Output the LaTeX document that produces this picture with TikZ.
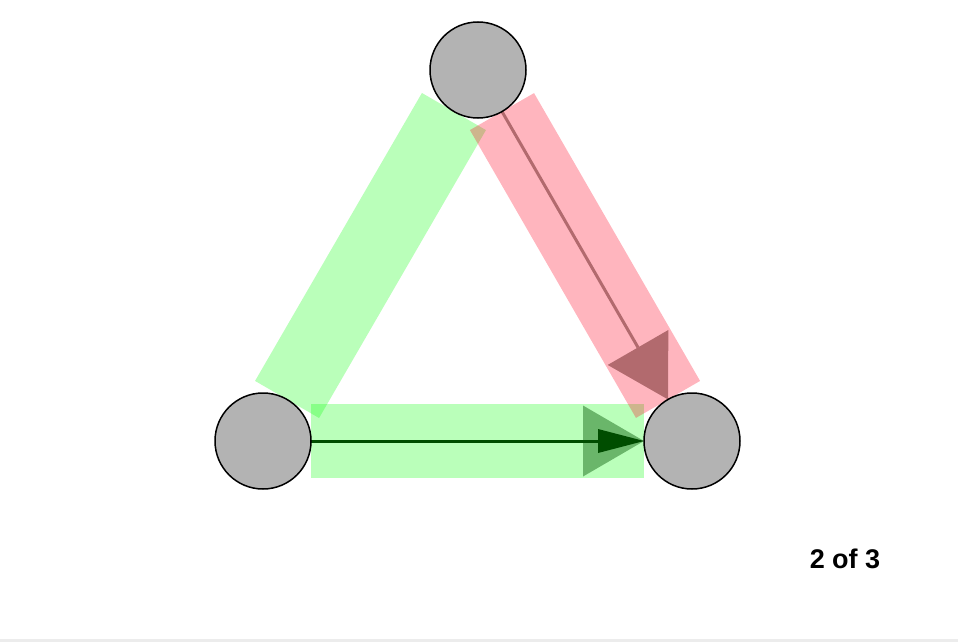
\documentclass[tikz,border=0pt]{standalone}
\usepackage{fontspec}
\setmainfont{Liberation Sans}
\usetikzlibrary{calc,backgrounds}
\definecolor{bandgreen}{RGB}{0,255,0}
\definecolor{bandred}{RGB}{255,0,31}
\definecolor{arrowred}{RGB}{178,106,110}
\definecolor{headgreen}{RGB}{106,182,106}
\definecolor{darkg}{RGB}{0,77,0}
\definecolor{nodegray}{RGB}{179,179,179}
\definecolor{footgray}{RGB}{236,236,236}
\begin{document}
\begin{tikzpicture}[x=1pt,y=-1pt,
  vertex/.style={circle,draw=black,line width=1.5pt,fill=nodegray,minimum size=96pt,inner sep=0pt,outer sep=0pt},
  gband/.style={draw=bandgreen,draw opacity=0.27,line width=74pt},
  rband/.style={draw=bandred,draw opacity=0.29,line width=74pt},
  counter/.style={font=\bfseries\fontsize{27}{31}\selectfont,inner sep=0pt}]
\useasboundingbox (0,0) rectangle (958,642);
\fill[footgray] (0,638.5) rectangle (958,642);
\node[vertex] (a) at (478,70) {};
\node[vertex] (b) at (263,441) {};
\node[vertex] (c) at (692,441) {};
\node[counter] (lbl) at (845,559) {2 of 3};
\begin{scope}[on background layer]
  \draw[gband] (b) -- (a);
  \draw[gband] (b) -- (c);
  \draw[rband] (a) -- (c);
  % green arrow
  \coordinate (gt) at (c.west);
  \coordinate (gbig) at ($(gt)!61pt!(b)$);
  \coordinate (gsmall) at ($(gt)!46pt!(b)$);
  \fill[headgreen] (gt) -- ($(gbig)!35.5pt!90:(gt)$) -- ($(gbig)!35.5pt!-90:(gt)$) -- cycle;
  \draw[darkg,line width=3pt] (b.east) -- (gsmall);
  \fill[darkg] (gt) -- ($(gsmall)!12pt!90:(gt)$) -- ($(gsmall)!12pt!-90:(gt)$) -- cycle;
  % red arrow
  \coordinate (rt) at (c.120);
  \coordinate (rbase) at ($(rt)!60pt!(a)$);
  \draw[arrowred,line width=3pt] (a.-60) -- (rbase);
  \fill[arrowred] (rt) -- ($(rbase)!35pt!90:(rt)$) -- ($(rbase)!35pt!-90:(rt)$) -- cycle;
\end{scope}
\end{tikzpicture}
\end{document}
